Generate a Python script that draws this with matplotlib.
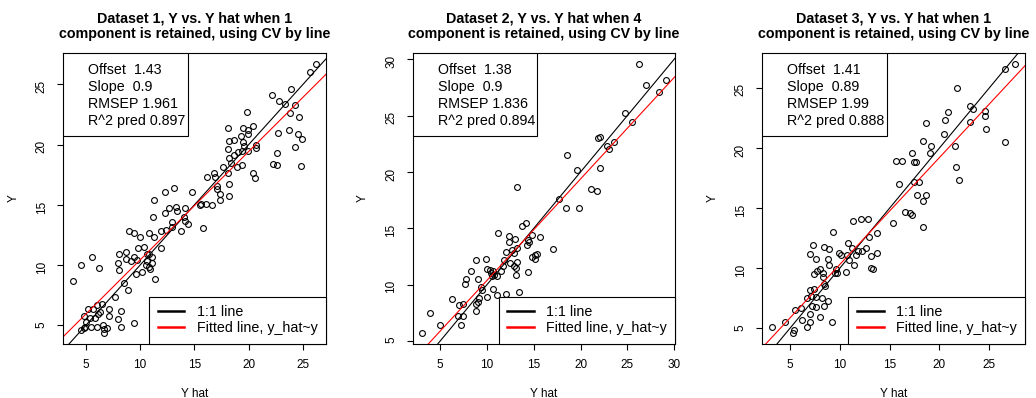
import numpy as np
import matplotlib.pyplot as plt
from matplotlib.ticker import MultipleLocator
from matplotlib.lines import Line2D
from matplotlib.patches import Rectangle

plt.rcParams['font.family'] = ['Liberation Sans', 'DejaVu Sans']

# (Y hat, Y) pairs, cross-validated predictions for each dataset
points_1 = np.array([
    (26.2, 26.7), (25.6, 26.0), (23.9, 24.6), (22.1, 24.1), (22.8, 23.6), (23.3, 23.4),
    (24.3, 23.3), (23.8, 22.6), (24.6, 22.3), (19.8, 22.7), (18.1, 21.4), (19.5, 21.4),
    (20.4, 21.5), (19.9, 21.2), (19.9, 20.9), (22.7, 21.0), (23.7, 21.2), (24.5, 20.9),
    (24.9, 20.5), (24.3, 19.8), (19.3, 20.7), (18.2, 20.3), (18.6, 20.4), (19.5, 20.2),
    (19.6, 19.9), (19.4, 19.5), (19.9, 19.5), (20.7, 20.0), (20.7, 19.7), (18.1, 19.6),
    (18.6, 19.1), (19.0, 19.4), (18.2, 18.9), (18.4, 18.5), (18.9, 18.1), (19.4, 18.3),
    (17.6, 18.1), (22.6, 19.3), (22.2, 18.4), (22.6, 18.3), (24.8, 18.2), (20.4, 17.6),
    (20.6, 17.2), (16.2, 17.3), (16.8, 17.6), (16.9, 17.3), (18.1, 17.6), (18.2, 16.7),
    (17.1, 16.6), (17.1, 16.3), (12.3, 16.1), (13.1, 16.4), (14.8, 16.1), (17.4, 15.9),
    (18.2, 15.7), (11.3, 15.4), (16.6, 15.0), (15.5, 15.0), (15.6, 15.1), (16.1, 15.1),
    (17.4, 15.4), (12.7, 14.7), (13.3, 14.8), (13.4, 14.5), (14.1, 14.7), (12.3, 14.3),
    (11.2, 14.0), (12.9, 13.6), (14.0, 14.0), (14.1, 13.7), (14.4, 13.4), (15.8, 13.1),
    (12.9, 13.2), (12.4, 12.9), (11.9, 12.8), (13.8, 12.8), (9.0, 12.8), (9.4, 12.7),
    (10.8, 12.7), (11.3, 12.3), (10.0, 12.3), (9.8, 11.4), (10.4, 11.5), (11.9, 11.4),
    (8.1, 10.9), (8.7, 11.1), (10.6, 10.9), (10.8, 10.9), (11.1, 10.7), (8.7, 10.5),
    (9.4, 10.7), (9.7, 10.4), (9.2, 10.3), (8.0, 10.2), (10.6, 10.3), (10.5, 10.0),
    (11.1, 10.2), (8.1, 9.6), (10.9, 9.7), (10.8, 9.85), (10.2, 9.4), (9.6, 9.3),
    (11.4, 8.85), (6.25, 9.8), (4.6, 10.0), (5.6, 10.7), (3.8, 8.7), (8.5, 8.5),
    (8.9, 7.9), (7.7, 7.35), (6.5, 6.8), (7.1, 6.4), (6.0, 6.65), (5.2, 6.35),
    (5.7, 6.35), (6.3, 6.1), (6.1, 5.95), (5.85, 5.6), (5.4, 5.65), (4.85, 5.8),
    (7.1, 5.75), (8.2, 6.2), (8.0, 5.5), (5.0, 5.3), (5.45, 4.9), (6.05, 4.9),
    (6.6, 5.0), (4.9, 4.9), (4.8, 4.75), (4.6, 4.6), (6.7, 4.7), (7.0, 4.75),
    (6.7, 4.35), (8.2, 4.9), (9.4, 5.2),
])

points_2 = np.array([
    (26.2, 29.6), (27.0, 27.7), (29.1, 28.2), (28.4, 27.1), (24.8, 25.2), (25.5, 24.4),
    (22.1, 23.1), (21.9, 23.0), (22.8, 22.3), (23.0, 22.0), (23.6, 22.7), (18.6, 21.5),
    (19.6, 20.2), (22.1, 20.4), (13.2, 18.7), (21.1, 18.5), (21.8, 18.3), (17.7, 17.6),
    (18.5, 16.8), (19.8, 16.8), (13.8, 15.2), (14.2, 15.5), (11.2, 14.6), (12.4, 14.3),
    (12.4, 13.8), (13.0, 14.1), (14.4, 14.0), (14.5, 13.8), (14.8, 14.4), (15.7, 14.2),
    (14.3, 13.5), (17.1, 13.2), (12.0, 12.9), (12.7, 13.1), (12.9, 12.8), (13.2, 13.3),
    (14.8, 12.5), (15.1, 12.6), (15.4, 12.7), (15.1, 12.3), (9.9, 12.3), (8.8, 12.2),
    (11.8, 12.2), (12.5, 11.9), (13.2, 12.0), (12.9, 11.7), (13.1, 11.5), (8.3, 11.2),
    (10.0, 11.4), (10.3, 11.3), (10.4, 11.0), (10.6, 11.2), (11.5, 11.2), (10.8, 10.9),
    (11.1, 10.8), (13.1, 10.9), (14.4, 11.1), (7.8, 10.5), (7.7, 10.1), (9.1, 10.5),
    (9.4, 9.8), (9.5, 9.5), (10.6, 9.6), (10.0, 8.9), (11.1, 9.1), (12.0, 9.2),
    (13.4, 9.4), (6.3, 8.7), (7.0, 8.2), (7.4, 8.3), (8.8, 8.3), (9.0, 8.5),
    (9.2, 8.8), (8.8, 7.7), (3.9, 7.5), (6.9, 7.2), (7.4, 7.2), (5.0, 6.4),
    (7.2, 6.4), (3.1, 5.7), (11.7, 11.7), (10.5, 10.8),
])

points_3 = np.array([
    (27.6, 27.0), (26.6, 26.6), (21.8, 25.0), (23.1, 23.5), (23.4, 23.2), (24.6, 23.1),
    (24.6, 22.7), (20.9, 23.0), (20.6, 22.3), (18.6, 22.1), (23.1, 22.2), (24.7, 21.6),
    (20.5, 21.2), (18.3, 20.6), (19.2, 20.2), (19.1, 19.6), (17.2, 19.6), (21.6, 20.2),
    (26.6, 20.5), (15.6, 18.9), (16.2, 18.9), (17.4, 18.8), (17.6, 18.8), (21.7, 18.4),
    (15.9, 17.0), (17.4, 17.2), (17.9, 17.2), (22.0, 17.3), (17.7, 16.1), (18.6, 16.1),
    (18.3, 15.6), (16.5, 14.7), (17.0, 14.6), (17.2, 14.4), (18.3, 13.4), (15.3, 13.8),
    (11.3, 13.9), (12.1, 14.1), (12.8, 14.1), (9.3, 13.0), (13.7, 12.9), (12.97, 12.6),
    (7.3, 11.9), (10.8, 12.1), (8.4, 11.8), (8.9, 11.6), (7.0, 11.2), (9.9, 11.25),
    (10.1, 11.1), (11.2, 11.7), (11.8, 11.4), (12.6, 11.7), (12.2, 11.4), (11.6, 11.1),
    (10.7, 11.1), (13.1, 11.0), (13.7, 11.3), (7.6, 10.8), (8.8, 10.75), (8.9, 10.3),
    (10.9, 10.7), (11.4, 10.3), (13.15, 10.05), (13.3, 9.9), (7.4, 9.5), (7.7, 9.8),
    (8.0, 9.9), (8.3, 9.6), (9.6, 9.9), (9.5, 9.6), (9.7, 9.6), (10.6, 9.7),
    (8.3, 9.3), (8.4, 8.7), (8.5, 8.5), (6.97, 8.2), (7.4, 8.3), (6.7, 7.5),
    (7.1, 7.7), (7.6, 7.6), (8.2, 7.5), (8.8, 7.3), (8.4, 6.9), (6.1, 6.7),
    (5.5, 6.5), (7.2, 6.9), (7.6, 6.75), (6.97, 6.2), (6.2, 5.7), (8.0, 5.95),
    (6.97, 5.5), (9.2, 5.5), (4.5, 5.5), (3.2, 5.1), (6.7, 5.1), (5.4, 4.9),
    (5.3, 4.6),
])

datasets = [points_1, points_2, points_3]
components = [1, 4, 1]
offsets = [1.43, 1.38, 1.41]
slopes = [0.9, 0.9, 0.89]
rmsep = [1.961, 1.836, 1.99]
r2_pred = [0.897, 0.894, 0.888]


def padded(v, frac=0.04):
    # data range widened by 4% on each side
    lo, hi = v.min(), v.max()
    d = (hi - lo) * frac
    return lo - d, hi + d


fig, axes = plt.subplots(1, 3, figsize=(10.36, 3.98), dpi=100)
fig.subplots_adjust(left=0.0608, right=0.9894, bottom=0.1357, top=0.8668, wspace=0.33)

for i, ax in enumerate(axes):
    pts = datasets[i]
    ax.plot(pts[:, 0], pts[:, 1], 'o', mfc='none', mec='black', ms=4.2, mew=0.8, ls='none')
    ax.axline((0, 0), slope=1, color='black', lw=0.8)
    ax.axline((0, offsets[i]), slope=slopes[i], color='red', lw=0.8)
    ax.set_xlim(*padded(pts[:, 0]))
    ax.set_ylim(*padded(pts[:, 1]))

    ax.xaxis.set_major_locator(MultipleLocator(5))
    ax.yaxis.set_major_locator(MultipleLocator(5))
    ax.tick_params(direction='out', length=4, width=0.8, labelsize=8.5, pad=7)
    ax.tick_params(axis='y', labelrotation=90)
    for sp in ax.spines.values():
        sp.set_linewidth(0.8)

    ax.set_xlabel('Y hat', fontsize=8.5)
    ax.set_ylabel('Y', fontsize=8.5)
    ax.xaxis.set_label_coords(0.5, -0.15)
    ax.yaxis.set_label_coords(-0.165, 0.5)
    ax.set_title(f'Dataset {i + 1}, Y vs. Y hat when {components[i]}\n'
                 'component is retained, using CV by line',
                 fontweight='bold', fontsize=10.3, pad=11, linespacing=1.08)

    # stats box, top left
    ax.add_patch(Rectangle((0, 0.715), 0.475, 0.285, transform=ax.transAxes,
                           facecolor='white', edgecolor='black', lw=0.8, zorder=5))
    lines = [f'Offset  {offsets[i]}', f'Slope  {slopes[i]}',
             f'RMSEP {rmsep[i]}', f'R^2 pred {r2_pred[i]}']
    for k, txt in enumerate(lines):
        ax.text(0.095, 0.943 - k * 0.0584, txt, transform=ax.transAxes,
                ha='left', va='center', fontsize=10.3, zorder=6)

    handles = [Line2D([], [], color='black', lw=1.8), Line2D([], [], color='red', lw=1.8)]
    leg = ax.legend(handles, ['1:1 line', 'Fitted line, y_hat~y'], loc='lower right',
                    borderaxespad=0, fancybox=False, edgecolor='black', framealpha=1,
                    fontsize=10.3, handlelength=1.85, handletextpad=0.85,
                    borderpad=0.6, labelspacing=0.15)
    leg.get_frame().set_linewidth(0.8)
    leg.set_zorder(6)

fig.savefig('out.png', dpi=100)
